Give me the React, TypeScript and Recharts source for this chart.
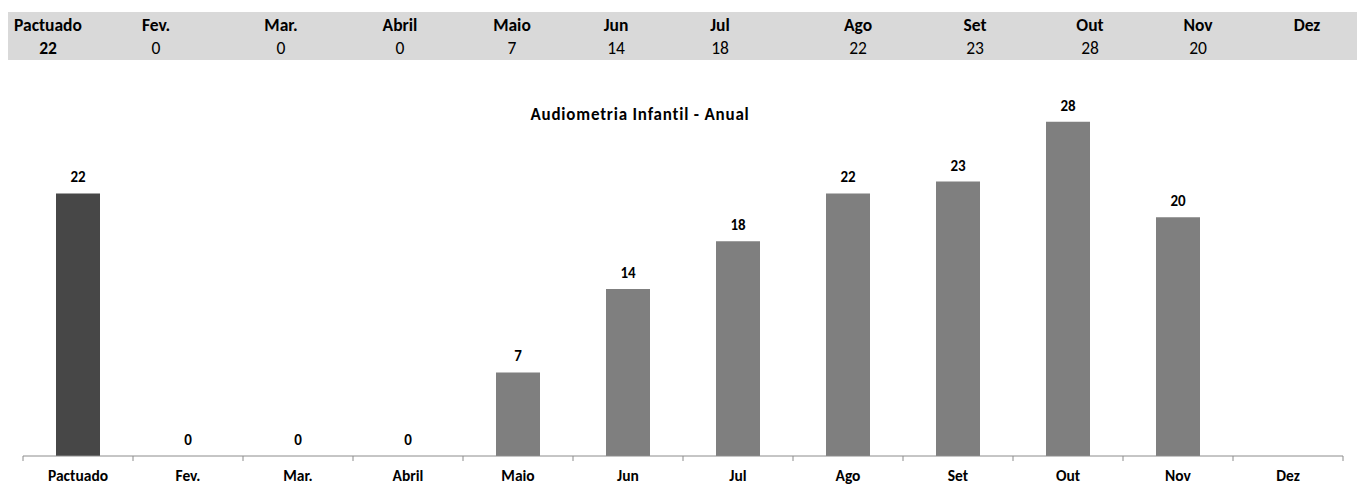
import { ComposedChart, Bar, Line, XAxis, YAxis, Cell, LabelList } from 'recharts';

const MONTHS = ['Pactuado', 'Fev.', 'Mar.', 'Abril', 'Maio', 'Jun', 'Jul', 'Ago', 'Set', 'Out', 'Nov', 'Dez'];
const VALUES: (number | null)[] = [22, 0, 0, 0, 7, 14, 18, 22, 23, 28, 20, null];
// horizontal centres of the columns of the summary table above the chart
const TABLE_CENTERS = [48, 156, 281, 400, 512, 616, 720, 858, 975, 1090, 1198, 1307];

const FONT = 'Carlito, Calibri, Lato, sans-serif';
const DARK = '#474747';
const GRAY = '#7f7f7f';
const AXIS = '#8c8c8c';

const W = 1357;
const H = 486;

const data = MONTHS.map((m, i) => ({ name: m, value: VALUES[i] }));

// category tick: bold label plus small tick marks on the category borders
function CategoryTick(props: any) {
  const { x, y, payload, index } = props;
  const half = (W - 23 - 14) / MONTHS.length / 2;
  return (
    <g>
      <line x1={x - half} x2={x - half} y1={y} y2={y + 5} stroke={AXIS} />
      {index === MONTHS.length - 1 && (
        <line x1={x + half} x2={x + half} y1={y} y2={y + 5} stroke={AXIS} />
      )}
      <text x={x} y={y + 25} textAnchor="middle" fontFamily={FONT} fontWeight={700} fontSize={15.5} fill="#000">
        {payload.value}
      </text>
    </g>
  );
}

// value above each column (drawn from an invisible line so zeros get one too)
function ValueLabel(props: any) {
  const { x, y, value } = props;
  if (value === null || value === undefined) return null;
  return (
    <text x={x} y={y - 11} textAnchor="middle" fontFamily={FONT} fontWeight={700} fontSize={15} fill="#000">
      {value}
    </text>
  );
}

function SummaryTable() {
  return (
    <div style={{ position: 'absolute', top: 12, left: 8, width: W - 8, height: 48, background: '#d9d9d9' }}>
      {MONTHS.map((m, i) => (
        <div key={m}>
          <div style={{
            position: 'absolute', left: TABLE_CENTERS[i] - 8 - 60, width: 120, top: 2,
            textAlign: 'center', fontFamily: FONT, fontWeight: 700, fontSize: 17.5, lineHeight: '22px',
          }}>{m}</div>
          <div style={{
            position: 'absolute', left: TABLE_CENTERS[i] - 8 - 60, width: 120, top: 25,
            textAlign: 'center', fontFamily: FONT, fontWeight: i === 0 ? 700 : 400, fontSize: 17.5, lineHeight: '22px',
          }}>{VALUES[i] ?? ''}</div>
        </div>
      ))}
    </div>
  );
}

export default function App() {
  return (
    <div style={{ position: 'absolute', top: 0, left: 0, width: W, height: H, background: '#fff' }}>
      <SummaryTable />
      <div style={{
        position: 'absolute', top: 104, left: 440, width: 400, textAlign: 'center',
        fontFamily: FONT, fontWeight: 700, fontSize: 17, letterSpacing: 0.8, whiteSpace: 'nowrap',
      }}>Audiometria Infantil - Anual</div>
      <div style={{ position: 'absolute', top: 0, left: 0 }}>
        <ComposedChart width={W} height={H} data={data} margin={{ top: 98, right: 14, left: 23, bottom: 0 }} barSize={44}>
          <XAxis
            dataKey="name"
            height={30}
            stroke={AXIS}
            tickLine={false}
            tickSize={0}
            tickMargin={0}
            interval={0}
            tick={<CategoryTick />}
          />
          <YAxis hide domain={[0, 30]} />
          <Bar dataKey="value" isAnimationActive={false}>
            {data.map((d, i) => (
              <Cell key={d.name} fill={i === 0 ? DARK : GRAY} />
            ))}
          </Bar>
          <Line dataKey="value" stroke="none" dot={false} activeDot={false} isAnimationActive={false}>
            <LabelList dataKey="value" content={<ValueLabel />} />
          </Line>
        </ComposedChart>
      </div>
    </div>
  );
}
